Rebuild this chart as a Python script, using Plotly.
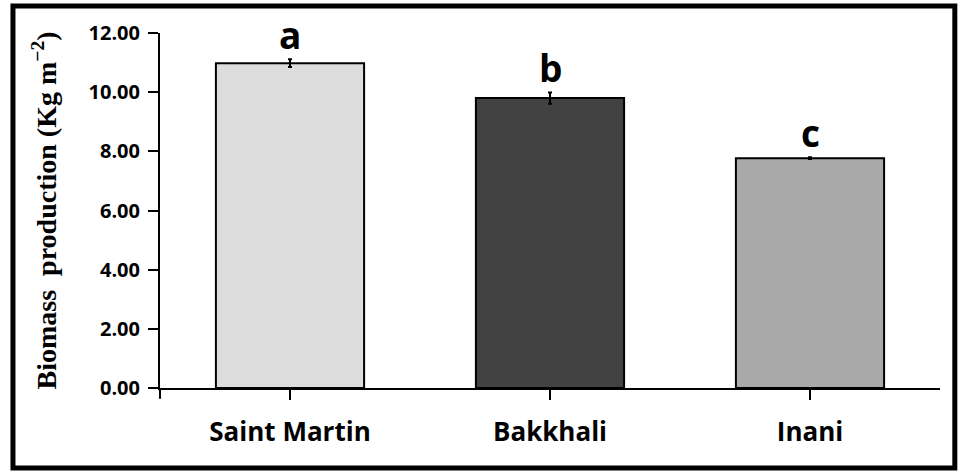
import plotly.graph_objects as go

categories = ["Saint Martin", "Bakkhali", "Inani"]
biomass = [10.98, 9.80, 7.77]
errors = [0.13, 0.19, 0.03]
letters = ["a", "b", "c"]
bar_colors = ["#dcdcdc", "#424242", "#a9a9a9"]
y_ticks = [0, 2, 4, 6, 8, 10, 12]

fig = go.Figure()
fig.add_trace(go.Bar(
    x=categories, y=biomass, width=0.57,
    marker=dict(color=bar_colors, line=dict(color="black", width=2)),
    error_y=dict(type="data", array=errors, color="black", thickness=2, width=2),
    showlegend=False,
))

for c, v, e, l in zip(categories, biomass, errors, letters):
    fig.add_annotation(x=c, y=v + e, text=l, showarrow=False, yanchor="bottom",
                       yshift=-3,
                       font=dict(family="Open Sans", size=37, color="black", weight="bold"))

sans = dict(family="Open Sans", color="black", weight="bold")
fig.update_layout(
    width=958, height=472,
    margin=dict(l=160, r=18, t=33, b=84),
    paper_bgcolor="white", plot_bgcolor="white",
    xaxis=dict(
        range=[-0.5, 2.5], showline=True, linecolor="black", linewidth=2,
        ticks="outside", ticklen=10, tickwidth=2, tickcolor="black",
        tickfont=dict(size=26, **sans), showgrid=False, zeroline=False,
        ticklabelstandoff=10,
    ),
    yaxis=dict(
        range=[0, 12], tickvals=y_ticks, tickformat=".2f",
        showline=True, linecolor="black", linewidth=2,
        ticks="outside", ticklen=10, tickwidth=2, tickcolor="black",
        tickfont=dict(size=20, **sans), showgrid=False, zeroline=False,
        ticklabelstandoff=4,
        title=dict(text="Biomass  production (Kg m<sup>\u22122</sup>)", standoff=24,
                   font=dict(family="Liberation Serif", size=28, color="black", weight="bold")),
    ),
    shapes=[
        dict(type="line", xref="paper", yref="paper", x0=0, x1=0, y0=0, y1=-0.03,
             line=dict(color="black", width=2)),
        dict(type="rect", xref="paper", yref="paper", x0=-0.1885, x1=1.019, y0=-0.225, y1=1.076,
             line=dict(color="black", width=5)),
    ],
)

fig.write_html("out.html", config={"displayModeBar": False},
               post_script="document.body.style.margin='0';")
